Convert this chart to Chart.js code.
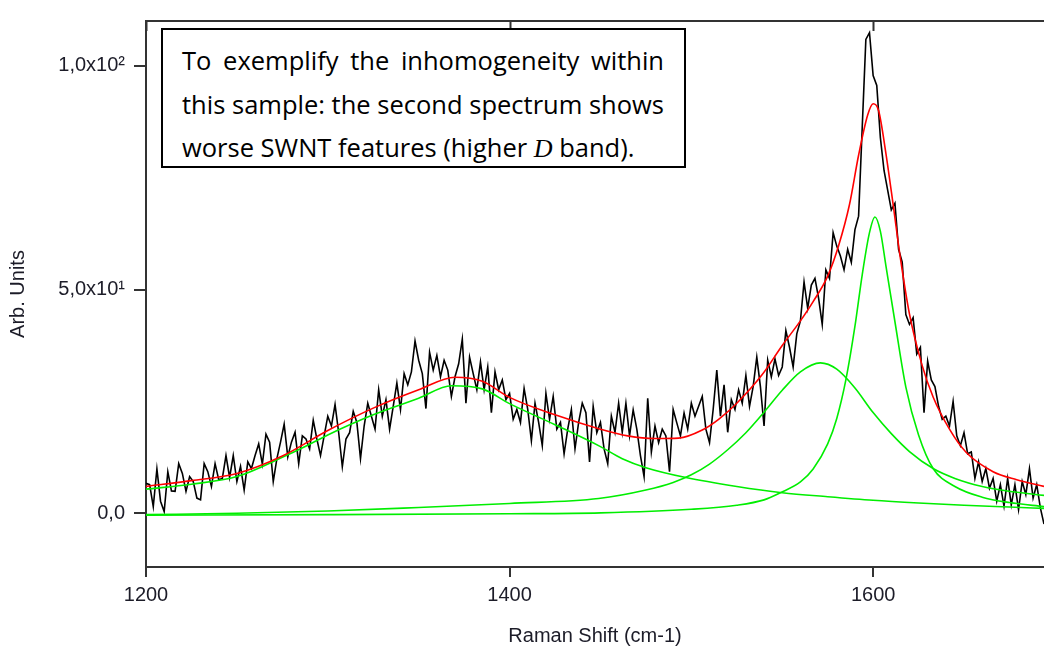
<!DOCTYPE html>
<html lang="en">
<head>
    <meta charset="UTF-8">
    <title>Raman spectrum with Lorentzian fit</title>
    <script src="https://cdn.jsdelivr.net/npm/chart.js"></script>
    <style>
        body {
            margin: 0;
            background: #ffffff;
        }
        .wrap {
            position: relative;
            width: 1044px;
            height: 652px;
        }
        .note {
            position: absolute;
            left: 161px;
            top: 28px;
            width: 525px;
            height: 140px;
            box-sizing: border-box;
            border: 2px solid #000;
            background: #fff;
            padding: 9px 20px 0 19px;
            font-family: "Open Sans", "Noto Sans", sans-serif;
            font-size: 25.5px;
            line-height: 43.5px;
            color: #000;
        }
        .note div {
            white-space: nowrap;
            text-align: justify;
            text-align-last: justify;
        }
        .note div.last {
            text-align-last: left;
        }
        .note i {
            font-family: "Liberation Serif", "DejaVu Serif", serif;
            font-size: 26px;
        }
    </style>
</head>
<body>

    <div class="wrap">
        <canvas id="spectrum" width="1044" height="652"></canvas>
        <div class="note">
            <div>To exemplify the inhomogeneity within</div>
            <div>this sample: the second spectrum shows</div>
            <div class="last">worse SWNT features (higher <i>D</i> band).</div>
        </div>
    </div>

    <script>
        // measured spectrum, one point every 2 cm-1 starting at 1200
        const shiftStart = 1200;
        const shiftStep = 2;
        const counts = [
            6.7, 6.4, 1.5, 9.9, 2.7, 0.4, 9.3, 5.0, 4.9, 11.1,
            8.9, 4.9, 8.2, 7.1, 3.4, 3.0, 11.1, 9.3, 6.0, 11.1,
            7.5, 7.8, 12.9, 8.0, 12.9, 7.1, 10.5, 5.2, 11.5, 10.0,
            12.9, 15.5, 11.0, 17.7, 15.9, 7.1, 12.2, 15.9, 19.9, 12.6,
            15.9, 18.1, 11.1, 17.3, 16.6, 14.4, 20.8, 16.6, 12.9, 17.3,
            21.7, 19.5, 24.3, 18.0, 10.4, 16.6, 18.0, 22.8, 20.3, 12.2,
            19.5, 24.6, 21.7, 18.8, 27.6, 21.7, 25.4, 18.8, 23.9, 29.1,
            23.2, 31.2, 28.7, 31.6, 38.5, 34.2, 31.2, 23.4, 36.0, 32.0,
            35.3, 30.5, 34.2, 32.0, 26.1, 30.5, 33.4, 38.9, 24.6, 34.9,
            31.2, 27.6, 33.8, 27.6, 32.7, 22.5, 31.6, 27.6, 29.8, 25.4,
            26.8, 21.0, 23.2, 20.3, 27.9, 23.2, 16.2, 24.6, 20.3, 15.1,
            26.8, 21.0, 26.1, 18.8, 20.3, 13.3, 18.8, 23.2, 14.4, 20.3,
            24.6, 22.5, 11.5, 23.9, 18.0, 20.3, 14.4, 11.1, 21.7, 18.1,
            24.6, 18.1, 24.6, 17.3, 23.1, 18.8, 12.9, 8.2, 25.7, 13.7,
            19.5, 15.8, 18.8, 17.3, 9.3, 23.2, 20.2, 17.3, 22.4, 18.8,
            24.6, 21.7, 23.9, 26.1, 18.8, 15.8, 23.2, 32.0, 21.7, 28.7,
            18.1, 25.4, 23.2, 27.6, 24.6, 30.8, 23.9, 28.3, 34.9, 28.3,
            19.5, 34.2, 30.5, 34.5, 30.8, 32.7, 40.8, 37.1, 32.7, 40.1,
            43.0, 51.7, 45.8, 51.0, 52.5, 48.1, 42.2, 54.4, 52.5, 62.7,
            59.7, 57.5, 54.4, 59.0, 56.1, 63.4, 66.4, 86.2, 105.9, 107.4,
            97.8, 95.6, 83.9, 76.6, 72.2, 67.8, 69.3, 59.0, 56.1, 44.4,
            42.2, 43.7, 35.6, 37.1, 22.5, 34.0, 29.8, 28.3, 23.9, 21.0,
            21.7, 19.5, 25.0, 17.3, 15.1, 18.0, 13.3, 13.7, 7.8, 11.5,
            7.1, 10.0, 5.6, 7.8, 2.7, 6.4, 1.6, 7.8, 1.9, 6.4,
            0.8, 7.1, 4.2, 10.0, 3.4, 6.4, 1.2, -2.4
        ];

        // cumulative fit (red)
        const fitShift = [1200, 1225, 1250, 1275, 1300, 1325, 1350, 1370, 1385, 1400,
            1425, 1450, 1465, 1480, 1493, 1506, 1515, 1525, 1539, 1550,
            1560, 1567, 1575, 1581, 1587, 1592, 1597, 1600, 1603, 1607,
            1611, 1615, 1620, 1627, 1633, 1642, 1651, 1666, 1679, 1694];
        const fitTotal = [6.0, 7.3, 8.9, 12.8, 18.5, 23.5, 27.6, 30.4, 29.5, 25.9,
            22.0, 18.8, 17.3, 16.7, 16.8, 18.6, 21.0, 24.6, 31.0, 37.5,
            43.0, 47.3, 53.0, 59.8, 69.0, 80.0, 89.0, 91.5, 90.0, 80.5,
            69.0, 57.0, 44.5, 33.0, 26.0, 18.8, 13.7, 9.3, 7.5, 6.0];

        // D band component
        const dShift = [1200, 1225, 1250, 1275, 1287, 1300, 1325, 1350, 1368, 1385,
            1400, 1425, 1450, 1462, 1475, 1497, 1525, 1550, 1575, 1600,
            1625, 1650, 1675, 1694];
        const dBand = [5.4, 6.5, 8.2, 12.5, 14.8, 17.5, 22.0, 25.7, 28.5, 27.8,
            24.5, 19.8, 14.9, 12.2, 10.2, 8.0, 6.0, 4.6, 3.7, 2.9,
            2.3, 1.8, 1.4, 1.1];

        // G- component
        const gMinusShift = [1200, 1250, 1300, 1350, 1400, 1449, 1475, 1490, 1500, 1510,
            1520, 1530, 1540, 1550, 1560, 1571, 1580, 1590, 1600, 1610,
            1620, 1633, 1645, 1660, 1677, 1694];
        const gMinus = [-0.3, 0.0, 0.5, 1.3, 2.2, 3.3, 5.2, 6.9, 8.6, 11.0,
            14.2, 18.0, 22.6, 27.5, 31.6, 33.6, 32.2, 28.0, 22.5, 17.8,
            13.8, 10.0, 7.8, 6.0, 4.8, 4.0];

        // G+ component
        const gPlusShift = [1200, 1300, 1400, 1450, 1500, 1525, 1540, 1549, 1560, 1567,
            1575, 1580, 1585, 1590, 1594, 1598, 1601, 1604, 1607, 1612,
            1618, 1625, 1633, 1645, 1660, 1675, 1694];
        const gPlus = [-0.4, -0.3, -0.1, 0.1, 0.9, 1.8, 3.0, 4.6, 7.0, 9.9,
            15.5, 21.2, 29.8, 41.8, 53.3, 62.7, 66.2, 63.0, 55.4, 42.8,
            28.2, 17.5, 10.0, 6.0, 3.6, 2.4, 1.5];

        // axis ticks
        const xTicks = [1200, 1400, 1600];
        const yTicks = [0, 50, 100];
        const yTickText = ['0,0', '5,0x10\u00b9', '1,0x10\u00b2'];

        const toPoints = (xs, ys) => ys.map((y, i) => ({ x: xs[i], y: y }));
        const spectrum = counts.map((y, i) => ({ x: shiftStart + i * shiftStep, y: y }));

        const axisColor = '#333333';
        const textColor = '#1c1c28';
        const labelFont = { family: '"Liberation Sans", Arial, sans-serif', size: 20 };

        function fitLine(points, color, order) {
            return {
                data: points,
                borderColor: color,
                borderWidth: 1.6,
                pointRadius: 0,
                cubicInterpolationMode: 'monotone',
                fill: false,
                order: order
            };
        }

        // frame along the top edge with inward ticks
        const topFrame = {
            id: 'topFrame',
            afterDraw(chart) {
                const ctx = chart.ctx;
                const area = chart.chartArea;
                const xs = chart.scales.x;
                ctx.save();
                ctx.strokeStyle = axisColor;
                ctx.lineWidth = 2;
                ctx.beginPath();
                ctx.moveTo(area.left - 1, area.top);
                ctx.lineTo(area.right, area.top);
                xTicks.forEach(v => {
                    const px = Math.round(xs.getPixelForValue(v)) + 0.5;
                    ctx.moveTo(px, area.top);
                    ctx.lineTo(px, area.top + 10);
                });
                ctx.stroke();
                ctx.restore();
            }
        };

        new Chart(document.getElementById('spectrum'), {
            type: 'line',
            data: {
                datasets: [
                    fitLine(toPoints(fitShift, fitTotal), '#ff0000', 0),
                    fitLine(toPoints(dShift, dBand), '#00ee00', 1),
                    fitLine(toPoints(gMinusShift, gMinus), '#00ee00', 1),
                    fitLine(toPoints(gPlusShift, gPlus), '#00ee00', 1),
                    {
                        data: spectrum,
                        borderColor: '#000000',
                        borderWidth: 1.6,
                        pointRadius: 0,
                        tension: 0,
                        fill: false,
                        order: 2
                    }
                ]
            },
            options: {
                responsive: false,
                animation: false,
                layout: { padding: { top: 11, right: 0, bottom: 0, left: 0 } },
                plugins: {
                    legend: { display: false },
                    tooltip: { enabled: false }
                },
                scales: {
                    x: {
                        type: 'linear',
                        min: 1200,
                        max: 1694,
                        afterFit(scale) { scale.height = 85; },
                        afterBuildTicks(scale) { scale.ticks = xTicks.map(v => ({ value: v })); },
                        ticks: {
                            color: textColor,
                            font: labelFont,
                            padding: 6,
                            maxRotation: 0,
                            callback: v => String(v)
                        },
                        grid: {
                            drawOnChartArea: false,
                            color: axisColor,
                            lineWidth: 2,
                            tickLength: 10
                        },
                        border: { color: axisColor, width: 2 },
                        title: {
                            display: true,
                            text: 'Raman Shift (cm-1)',
                            color: textColor,
                            font: labelFont,
                            padding: { top: 0, bottom: 4 }
                        }
                    },
                    y: {
                        min: -12,
                        max: 110,
                        afterFit(scale) { scale.width = 146; },
                        afterBuildTicks(scale) { scale.ticks = yTicks.map(v => ({ value: v })); },
                        ticks: {
                            color: textColor,
                            font: labelFont,
                            padding: 9,
                            callback: v => yTickText[yTicks.indexOf(v)]
                        },
                        grid: {
                            drawOnChartArea: false,
                            color: axisColor,
                            lineWidth: 2,
                            tickLength: 12
                        },
                        border: { color: axisColor, width: 2 },
                        title: {
                            display: true,
                            text: 'Arb. Units',
                            color: textColor,
                            font: labelFont,
                            padding: { top: 6, bottom: 0 }
                        }
                    }
                }
            },
            plugins: [topFrame]
        });
    </script>

</body>
</html>
